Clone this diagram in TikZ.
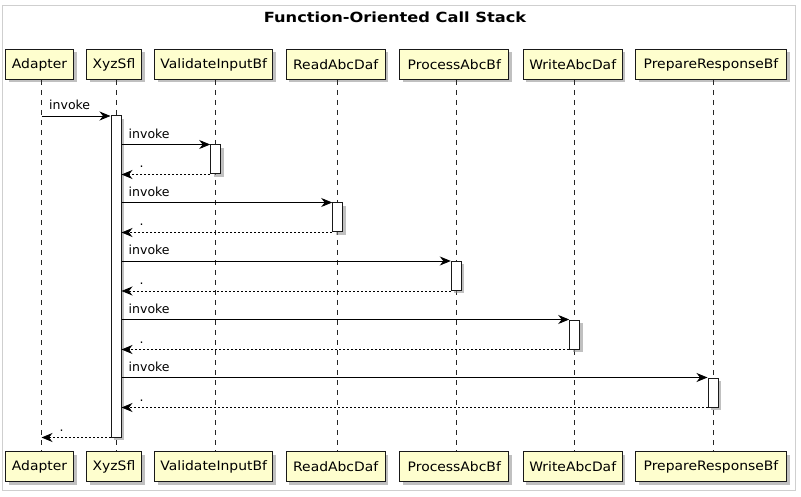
\documentclass[tikz,border=0pt]{standalone}
\usepackage{fontspec}
\setmainfont{DejaVu Sans}
\usetikzlibrary{arrows.meta,shadows}
\definecolor{partfill}{HTML}{FEFECE}
\definecolor{framegray}{HTML}{CFCFCF}
\begin{document}
\begin{tikzpicture}[x=1pt,y=-1pt,
  shad/.style={drop shadow={shadow xshift=3pt,shadow yshift=-3pt,fill=black!45,opacity=0.55}},
  part/.style={draw=black!90,line width=1pt,fill=partfill,font=\fontsize{13}{15}\selectfont,
    minimum height=30pt,inner xsep=0pt,inner ysep=0pt,shad},
  life/.style={draw=black!85,dash pattern=on 5pt off 5pt,line width=0.8pt},
  act/.style={draw=black!90,fill=white,line width=1pt,minimum width=10pt,inner sep=0pt,shad},
  msg/.style={-{Stealth[length=11pt,width=9pt,inset=3.5pt]},line width=0.9pt},
  ret/.style={msg,dash pattern=on 2pt off 2pt},
  lbl/.style={font=\fontsize{12.5}{14}\selectfont,anchor=base west,inner sep=0pt}]
\useasboundingbox (0,0) rectangle (801,497);
\draw[framegray,line width=1pt] (2,6) rectangle (795,490);
\node[font=\bfseries\fontsize{14}{16}\selectfont,anchor=base] (title) at (395,22.7) {\scalebox{1.16}[1]{Function-Oriented Call Stack}};
% participants (top and bottom)
\foreach \n/\x/\w/\t in {A/41.5/68/Adapter,X/116/55/XyzSfl,V/215.7/118/ValidateInputBf,R/337.7/99/ReadAbcDaf,P/456.3/109/ProcessAbcBf,W/574.7/99/WriteAbcDaf,Q/713/151/PrepareResponseBf}{
  \coordinate (l\n) at (\x,0);
  \node[part,minimum width=\w pt] (\n top) at (\x-2,64.5) {\scalebox{1.07}[1]{\t}};
  \node[part,minimum width=\w pt] (\n bot) at (\x-2,466.5) {\scalebox{1.07}[1]{\t}};
}
\foreach \n in {A,X,V,R,P,W,Q}{
  \draw[life] (\n top.south -| l\n) -- (\n bot.north -| l\n);
}
% activations
\node[act,minimum height=321pt] (aX) at (116,276.5) {};
\node[act,minimum height=29pt] (aV) at (215.7,159.5) {};
\node[act,minimum height=29pt] (aR) at (337.7,217.5) {};
\node[act,minimum height=29pt] (aP) at (456.3,276) {};
\node[act,minimum height=29pt] (aW) at (574.7,334.5) {};
\node[act,minimum height=29pt] (aQ) at (713,392.5) {};
% messages
\coordinate (m0) at (0,116);
\draw[msg] (lA |- m0) -- (aX.west |- m0);
\node[lbl] (t0) at (49,110) {invoke};
\foreach \b in {V,R,P,W,Q}{
  \draw[msg] (aX.east |- a\b.north) -- (a\b.north west);
  \node[lbl] at ([xshift=7pt,yshift=6pt]aX.east |- a\b.north) {invoke};
  \draw[ret] (a\b.south west) -- (aX.east |- a\b.south);
  \node[lbl] at ([xshift=18pt,yshift=6.5pt]aX.east |- a\b.south) {.};
}
\draw[ret] (aX.south west) -- (lA |- aX.south);
\node[lbl] (tr) at ([xshift=18pt,yshift=6.5pt]lA |- aX.south) {.};
\end{tikzpicture}
\end{document}
